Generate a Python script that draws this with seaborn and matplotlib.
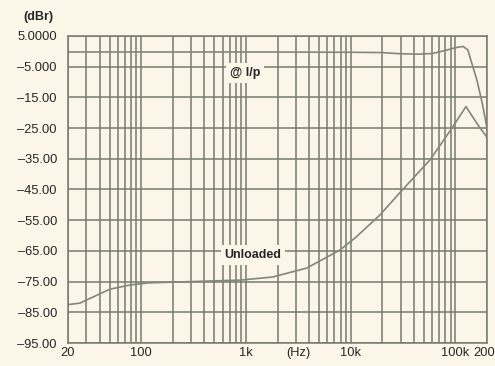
import matplotlib
matplotlib.use("Agg")
import matplotlib.pyplot as plt
import matplotlib.ticker as mticker
import seaborn as sns
import pandas as pd
import numpy as np

# ---- data ----
freq_ip = [20, 100, 1000, 10000, 20000, 30000, 45000, 60000, 80000, 100000, 118000, 131000, 160000, 180000, 200000]
db_ip = [-0.2, -0.2, -0.2, -0.3, -0.4, -0.8, -0.9, -0.7, 0.3, 1.2, 1.6, 0.5, -9.3, -16.8, -25.0]

freq_ul = [20, 26, 50, 78, 120, 300, 900, 1800, 3800, 7900, 11000, 19000, 31000, 57000, 90000, 126000, 164000, 200000]
db_ul = [-82.5, -82.0, -77.5, -76.1, -75.4, -75.0, -74.5, -73.5, -70.6, -64.7, -60.8, -53.3, -45.2, -35.4, -25.6, -18.0, -24.0, -28.0]

y_ticks = [5, -5, -15, -25, -35, -45, -55, -65, -75, -85, -95]
y_tick_labels = ["5.0000", "\u20135.000", "\u201315.00", "\u201325.00", "\u201335.00", "\u201345.00",
                 "\u201355.00", "\u201365.00", "\u201375.00", "\u201385.00", "\u201395.00"]
x_ticks = [20, 100, 1000, 3162, 10000, 100000, 200000]
x_tick_labels = ["20", "100", "1k", "(Hz)", "10k", "100k", "200k"]

bg = "#fbf6e8"
grid_c = "#767b6b"
line_c = "#83877a"
text_c = "#262626"

sns.set_style("white")
plt.rcParams['font.family'] = ['Liberation Sans', 'DejaVu Sans']

df = pd.concat([
    pd.DataFrame({"f": freq_ip, "db": db_ip, "s": "@ l/p"}),
    pd.DataFrame({"f": freq_ul, "db": db_ul, "s": "Unloaded"}),
])

fig = plt.figure(figsize=(4.95, 3.66), dpi=100, facecolor=bg)
ax = fig.add_axes([68/495, 23/366, 419/495, 307/366])
ax.set_facecolor(bg)

sns.lineplot(data=df, x="f", y="db", units="s", estimator=None, color=line_c,
             linewidth=1.2, ax=ax, legend=False, sort=False)

ax.set_xscale("log")
ax.set_xlim(20, 200000)
ax.set_ylim(-95, 5)

# grid: every 10 dB horizontally, log major+minor vertically
for y in y_ticks:
    ax.axhline(y, color=grid_c, lw=1.1, zorder=0.5)
for dec in [10, 100, 1000, 10000, 100000]:
    for m in range(1, 10):
        v = dec * m
        if 20 <= v <= 200000:
            ax.axvline(v, color=grid_c, lw=1.1, zorder=0.5)

ax.set_yticks(y_ticks)
ax.set_yticklabels(y_tick_labels)
ax.xaxis.set_minor_locator(mticker.NullLocator())
ax.set_xticks(x_ticks)
ax.set_xticklabels(x_tick_labels)
ax.tick_params(axis="y", length=0, pad=8, labelsize=9.3, labelcolor=text_c)
ax.tick_params(axis="x", length=0, pad=3, labelsize=9.3, labelcolor=text_c)
ax.set_xlabel("")
ax.set_ylabel("")
for sp in ax.spines.values():
    sp.set_color(grid_c)
    sp.set_linewidth(1.1)

fig.text(38/495, 1 - 17/366, "(dBr)", ha="center", va="center", fontsize=9,
         fontweight="bold", color=text_c)

ax.text(980, -7.0, "@ l/p", ha="center", va="center", fontsize=9, fontweight="bold",
        color=text_c, bbox=dict(boxstyle="square,pad=0.3", fc=bg, ec="none"), zorder=5)
ax.text(1170, -66.3, "Unloaded", ha="center", va="center", fontsize=9, fontweight="bold",
        color=text_c, bbox=dict(boxstyle="square,pad=0.3", fc=bg, ec="none"), zorder=5)

fig.savefig("out.png", dpi=100, facecolor=bg)
